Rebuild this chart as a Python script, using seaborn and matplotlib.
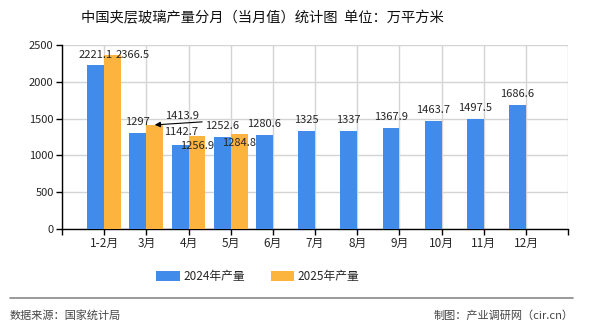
import matplotlib
matplotlib.use("Agg")
import matplotlib.pyplot as plt
import seaborn as sns
import pandas as pd
from matplotlib.patches import Patch

months = ["1-2月", "3月", "4月", "5月", "6月", "7月", "8月", "9月", "10月", "11月", "12月"]
vals_2024 = [2221.1, 1297, 1142.7, 1252.6, 1280.6, 1325, 1337, 1367.9, 1463.7, 1497.5, 1686.6]
vals_2025 = [2366.5, 1413.9, 1256.9, 1284.8]
series = ["2024年产量", "2025年产量"]
colors = ["#418CEB", "#FDB43F"]
yticks = [0, 500, 1000, 1500, 2000, 2500]

rows = []
for m, v in zip(months, vals_2024):
    rows.append((m, series[0], v))
for m, v in zip(months, vals_2025):
    rows.append((m, series[1], v))
df = pd.DataFrame(rows, columns=["月份", "系列", "产量"])

sns.set_theme(style="white")
plt.rcParams['font.family'] = ['Noto Sans CJK SC', 'DejaVu Sans']

fig = plt.figure(figsize=(5.9, 3.3), dpi=100)
ax = fig.add_axes([0.105, 0.306, 0.858, 0.558])

sns.barplot(data=df, x="月份", y="产量", hue="系列", order=months, hue_order=series,
            palette=colors, width=0.8, saturation=1, ax=ax, legend=False, zorder=3,
            linewidth=0, edgecolor="none")

ax.set_xlim(-1, len(months))
ax.set_ylim(0, 2500)
ax.set_yticks(yticks)
ax.set_yticklabels([str(t) for t in yticks], fontsize=8)
ax.set_xlabel("")
ax.set_ylabel("")
ax.set_xticks([-1] + list(range(len(months))) + [len(months)])
ax.set_xticklabels([""] + months + [""], fontsize=8.5)
ax.grid(True, color="#d4d4d4", linewidth=1, zorder=0)
ax.tick_params(axis="both", which="major", length=4, width=1, color="#000000", direction="out",
               bottom=True, left=True, pad=2)
for s in ["top", "right"]:
    ax.spines[s].set_visible(False)
for s in ["left", "bottom"]:
    ax.spines[s].set_color("#000000")
    ax.spines[s].set_linewidth(1)

# value labels: (dx, dy) pixel offsets relative to bar top centre
offs24 = {0: (0, 10), 2: (1, 13)}
offs25 = {0: (20, 0), 2: (0, -10), 3: (0, -9)}
bars24 = ax.patches[:len(vals_2024)]
bars25 = ax.patches[len(vals_2024):len(vals_2024) + len(vals_2025)]
for i, (b, v) in enumerate(zip(bars24, vals_2024)):
    dx, dy = offs24.get(i, (0, 11))
    ax.annotate(f"{v:g}", (b.get_x() + b.get_width() / 2, v), xytext=(dx, dy),
                textcoords="offset pixels", ha="center", va="center", fontsize=8, zorder=5)
for i, (b, v) in enumerate(zip(bars25, vals_2025)):
    cx = b.get_x() + b.get_width() / 2
    if i == 1:
        ax.annotate(f"{v:g}", (cx, v), xytext=(27, 9), textcoords="offset pixels",
                    ha="center", va="center", fontsize=8, zorder=5,
                    arrowprops=dict(arrowstyle="-|>", color="black", lw=0.8,
                                    relpos=(1.1, -0.1), shrinkA=0, shrinkB=0,
                                    mutation_scale=8))
        continue
    dx, dy = offs25.get(i, (0, 11))
    ax.annotate(f"{v:g}", (cx, v), xytext=(dx, dy), textcoords="offset pixels",
                ha="center", va="center", fontsize=8, zorder=5)

fig.text(0.444, 0.945, "中国夹层玻璃产量分月（当月值）统计图  单位：万平方米",
         ha="center", va="center", fontsize=10.3, color="#111111")

handles = [Patch(facecolor=c, edgecolor="none") for c in colors]
fig.legend(handles, series, loc="center", bbox_to_anchor=(0.437, 0.163), ncol=2, frameon=False,
           fontsize=8.5, handlelength=2.0, handleheight=0.9, columnspacing=2.2, handletextpad=0.3)

fig.add_artist(plt.Line2D([0.017, 0.972], [0.097, 0.097], color="#888888", linewidth=1.2))
fig.text(0.017, 0.045, "数据来源：国家统计局", ha="left", va="center", fontsize=8, color="#444444")
fig.text(0.972, 0.045, "制图：产业调研网（cir.cn）", ha="right", va="center", fontsize=8, color="#444444")

fig.savefig("out.png", dpi=100)
